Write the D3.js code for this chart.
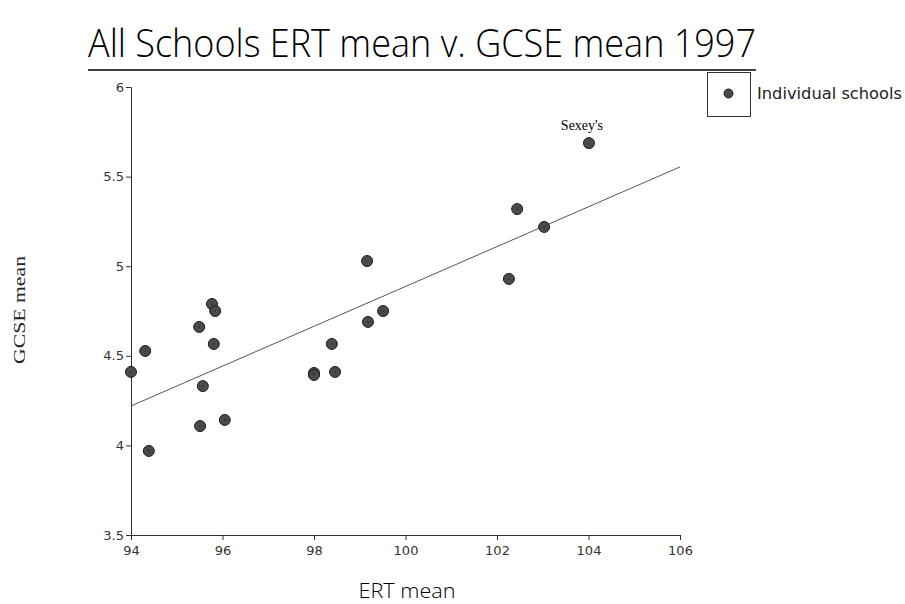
<!DOCTYPE html>
<html>
<head>
<meta charset="utf-8">
<script src="https://cdn.jsdelivr.net/npm/d3@7"></script>
<style>
  html, body { margin: 0; padding: 0; background: #fff; }
  svg { display: block; }
</style>
</head>
<body>
<svg id="chart" width="905" height="604"></svg>
<script>
// ---- data ----
const ertMean = [94.0, 94.31, 94.39, 95.49, 95.51, 95.57, 95.77, 95.84, 95.81, 96.05,
                 98.0, 98.0, 98.39, 98.46, 99.16, 99.18, 99.51, 102.26, 102.44, 103.03, 104.01];
const gcseMean = [4.41, 4.527, 3.969, 4.661, 4.108, 4.331, 4.789, 4.75, 4.566, 4.142,
                  4.404, 4.393, 4.566, 4.41, 5.029, 4.689, 4.75, 4.929, 5.319, 5.219, 5.687];
const schoolNames = ["", "", "", "", "", "", "", "", "", "", "", "", "", "", "", "", "", "", "", "", "Sexey's"];
const trendX = [94, 106];
const trendY = [4.22, 5.554];
const xTicks = [94, 96, 98, 100, 102, 104, 106];
const yTicks = [3.5, 4, 4.5, 5, 5.5, 6];

const svg = d3.select("#chart");
const x = d3.scaleLinear().domain([94, 106]).range([131, 680]);
const y = d3.scaleLinear().domain([3.5, 6]).range([535, 87]);

// title
svg.append("text")
  .attr("x", 422).attr("y", 57)
  .attr("text-anchor", "middle")
  .style("font-family", "'Open Sans', 'DejaVu Sans', sans-serif")
  .style("font-size", "39px")
  .style("font-weight", "300")
  .style("fill", "#000")
  .attr("textLength", 668)
  .attr("lengthAdjust", "spacingAndGlyphs")
  .text("All Schools ERT mean v. GCSE mean 1997");
svg.append("line").attr("x1", 88).attr("x2", 756).attr("y1", 70).attr("y2", 70)
  .attr("stroke", "#000").attr("stroke-width", 1.5);

// axes
const axFont = "'DejaVu Sans', Verdana, sans-serif";
const xAxis = svg.append("g").attr("transform", "translate(0,535)")
  .call(d3.axisBottom(x).tickValues(xTicks).tickSize(5).tickPadding(6).tickFormat(d3.format("d")));
const yAxis = svg.append("g").attr("transform", "translate(131,0)")
  .call(d3.axisLeft(y).tickValues(yTicks).tickSize(5).tickPadding(2).tickFormat(d => String(d)));
[xAxis, yAxis].forEach(g => {
  g.select(".domain").attr("stroke", "#333");
  g.selectAll(".tick line").attr("stroke", "#333");
  g.selectAll(".tick text").style("font-family", axFont).style("font-size", "13px").style("fill", "#333");
});

// axis titles
svg.append("text").attr("x", 407).attr("y", 598).attr("text-anchor", "middle")
  .style("font-family", "'Open Sans', 'DejaVu Sans', sans-serif").style("font-size", "20px")
  .style("font-weight", "300")
  .attr("textLength", 97).attr("lengthAdjust", "spacingAndGlyphs")
  .text("ERT mean");
svg.append("text").attr("transform", "translate(25,310) rotate(-90)").attr("text-anchor", "middle")
  .style("font-family", "'Liberation Serif', 'Times New Roman', serif").style("font-size", "16px")
  .style("fill", "#222")
  .attr("textLength", 108).attr("lengthAdjust", "spacingAndGlyphs")
  .text("GCSE mean");

// trend line
svg.append("line")
  .attr("x1", x(trendX[0])).attr("y1", y(trendY[0]))
  .attr("x2", x(trendX[1])).attr("y2", y(trendY[1]))
  .attr("stroke", "#555").attr("stroke-width", 1);

// points
const pts = ertMean.map((v, i) => ({ x: v, y: gcseMean[i], name: schoolNames[i] }));
const g = svg.append("g");
g.selectAll("circle.pt").data(pts).join("circle").attr("class", "pt")
  .attr("cx", d => x(d.x)).attr("cy", d => y(d.y)).attr("r", 5.5)
  .attr("fill", "#4a4a4a").attr("stroke", "#1e1e1e").attr("stroke-width", 1);
g.selectAll("circle.ctr").data(pts).join("circle").attr("class", "ctr")
  .attr("cx", d => x(d.x)).attr("cy", d => y(d.y)).attr("r", 0.6).attr("fill", "#111");
g.selectAll("text.lbl").data(pts.filter(d => d.name)).join("text").attr("class", "lbl")
  .attr("x", d => x(d.x) - 7).attr("y", d => y(d.y) - 13).attr("text-anchor", "middle")
  .style("font-family", "'Liberation Serif', 'Times New Roman', serif").style("font-size", "14px")
  .text(d => d.name);

// legend
const lg = svg.append("g");
lg.append("rect").attr("x", 707.5).attr("y", 72.5).attr("width", 43).attr("height", 44)
  .attr("fill", "none").attr("stroke", "#333").attr("stroke-width", 1);
lg.append("circle").attr("cx", 728.5).attr("cy", 93.5).attr("r", 4.5)
  .attr("fill", "#4a4a4a").attr("stroke", "#1e1e1e");
lg.append("text").attr("x", 757).attr("y", 99)
  .style("font-family", axFont).style("font-size", "15px").style("fill", "#222")
  .attr("textLength", 145).attr("lengthAdjust", "spacingAndGlyphs")
  .text("Individual schools");
</script>
</body>
</html>
